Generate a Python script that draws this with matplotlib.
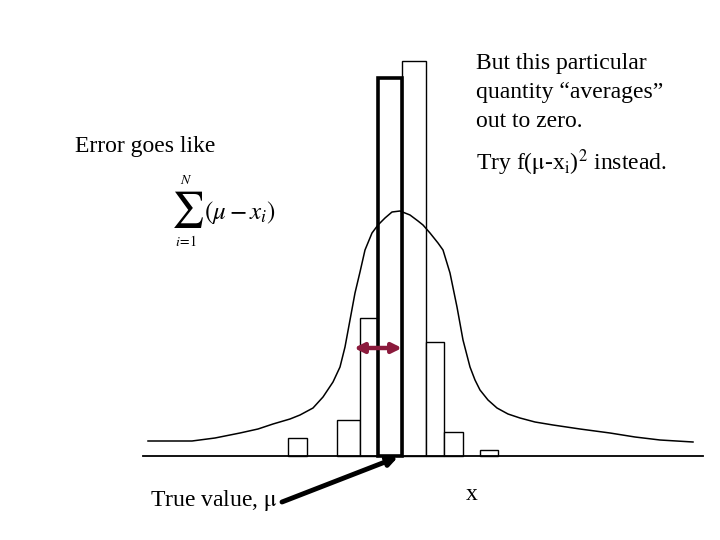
import matplotlib
matplotlib.use("Agg")
import matplotlib.pyplot as plt

plt.rcParams['font.family'] = ['Liberation Serif', 'DejaVu Serif']
plt.rcParams['mathtext.fontset'] = 'stix'

# histogram bins (left edge, right edge) and heights above the x axis
bin_left = [288, 337, 360, 378, 402, 426, 444, 480]
bin_right = [307, 360, 378, 402, 426, 444, 463, 498]
counts = [18, 36, 138, 378, 395, 114, 24, 6]
true_bin = 3  # the bin drawn with a heavy outline

# smooth curve
curve_x = [148, 170, 192, 215, 240, 258, 273, 290, 300, 313, 323, 333, 340, 345,
           350, 355, 360, 365, 372, 378, 385, 392, 400, 410, 418, 423, 430, 438,
           443, 450, 457, 463, 470, 475, 480, 488, 497, 508, 520, 535, 553, 580,
           610, 635, 660, 693]
curve_y = [15, 15, 15, 18, 23, 27, 32, 37, 41, 48, 59, 74, 89, 109,
           136, 163, 184, 206, 223, 231, 238, 244, 245, 241, 235, 231, 223, 213,
           206, 183, 149, 116, 89, 76, 66, 56, 48, 42, 38, 34, 31, 27,
           23, 19, 16, 14]

axis_x = [143, 703]
mu = 402
width_arrow = [354, 402]
width_arrow_y = 108

fig = plt.figure(figsize=(7.2, 5.4), dpi=100)
ax = fig.add_axes([0, 0, 1, 1])
ax.set_xlim(0, 720)
ax.set_ylim(-84, 456)
ax.axis('off')

# bars
for i in range(len(counts)):
    lw = 2.6 if i == true_bin else 1.0
    ax.bar(bin_left[i], counts[i], width=bin_right[i] - bin_left[i], align='edge',
           facecolor='white', edgecolor='black', linewidth=lw,
           zorder=3 if i == true_bin else 2)

ax.plot(curve_x, curve_y, color='black', lw=1.1, zorder=4, solid_joinstyle='round')
ax.plot(axis_x, [0, 0], color='black', lw=1.3, zorder=5)

# double-headed width arrow
ax.annotate('', xy=(width_arrow[1], width_arrow_y), xytext=(width_arrow[0], width_arrow_y),
            arrowprops=dict(arrowstyle='<|-|>', color='#8b1a3c', lw=3.2,
                            mutation_scale=14, shrinkA=0, shrinkB=0), zorder=6)

# true value arrow
ax.annotate('', xy=(mu - 4, -1), xytext=(282, -46),
            arrowprops=dict(arrowstyle='-|>', color='black', lw=3.5,
                            mutation_scale=14, shrinkA=0, shrinkB=0), zorder=6)

fs = 17
ax.text(75, 304, 'Error goes like', fontsize=fs, va='baseline')

# summation drawn in pieces so the sigma can be large
ax.text(187, 246, r'$\sum$', fontsize=26, ha='center', va='center')
ax.text(186, 275, r'$N$', fontsize=10, ha='center', va='center')
ax.text(186, 214, r'$i\!=\!1$', fontsize=10, ha='center', va='center')
ax.text(204, 244, r'$(\mu - x_i)$', fontsize=18, ha='left', va='center')

ax.text(476, 387, 'But this particular', fontsize=fs, va='baseline')
ax.text(476, 358, 'quantity \u201caverages\u201d', fontsize=fs, va='baseline')
ax.text(476, 329, 'out to zero.', fontsize=fs, va='baseline')
ax.text(476, 286, r'Try f($\mathrm{\mu}$-x$_\mathrm{i}$)$^2$ instead.', fontsize=fs, va='baseline')

ax.text(150, -50, r'True value, $\mathrm{\mu}$', fontsize=fs, va='baseline')
ax.text(466, -44, 'x', fontsize=fs, va='baseline')

fig.savefig('out.png', dpi=100, facecolor='white')
